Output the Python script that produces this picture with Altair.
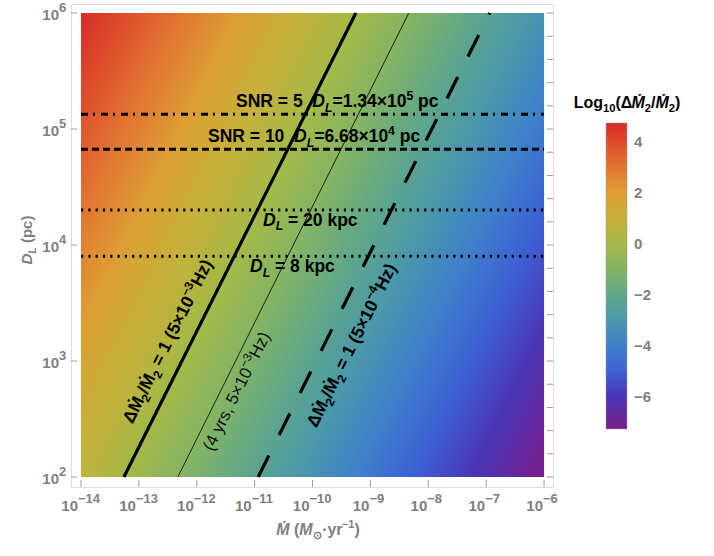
import altair as alt
import pandas as pd

# ---------------- values ----------------
mdot_ticks = [1e-14, 1e-13, 1e-12, 1e-11, 1e-10, 1e-9, 1e-8, 1e-7, 1e-6]
mdot_exps = ["−14", "−13", "−12", "−11", "−10", "−9", "−8", "−7", "−6"]
dl_ticks = [1e2, 1e3, 1e4, 1e5, 1e6]
dl_exps = ["2", "3", "4", "5", "6"]
dl_minor_exps = [2.0, 2.2, 2.4, 2.6, 2.8, 3.0, 3.2, 3.4, 3.6, 3.8, 4.0,
                 4.2, 4.4, 4.6, 4.8, 5.0, 5.2, 5.4, 5.6, 5.8, 6.0]

# extent of the colour field
field_mdot = [1e-14, 1e-6]
field_dl = [1e2, 1e6]

# colour bar: log10(dM2/M2) values and colours (top-left of field = max, bottom-right = min)
cbar_values = [-7.26, -6, -5, -4, -3, -2, -1, 0, 1, 2, 3, 4, 4.74]
cbar_colors = ["#7a1d8a", "#4b35b5", "#3d5fd4", "#3f80cb", "#4a98aa", "#60a788",
               "#84b464", "#a5b947", "#c6b13a", "#dd9f35", "#e27531", "#de4b2b", "#d62b28"]
cbar_label_values = [4, 2, 0, -2, -4, -6]

# horizontal distance lines (pc)
snr5_dl = 1.34e5
snr10_dl = 6.68e4
d20_dl = 2.0e4
d8_dl = 8.0e3

# diagonal lines: D_L end points and the matching Mdot end points
diag_dl = [1e2, 1e6]
solid_mdot = [5.5e-14, 5.6e-10]
thin_mdot = [4.7e-13, 4.6e-9]
dashed_mdot = [1.15e-11, 1.15e-7]

# ---------------- layout ----------------
W, H = 482, 483
X_DOM = [10 ** -14.173, 10 ** -5.845]
Y_DOM = [10 ** 1.914, 10 ** 6.078]
FONT = "Liberation Sans"
GREY = "#808080"

xscale = alt.Scale(type="log", domain=X_DOM, nice=False)
yscale = alt.Scale(type="log", domain=Y_DOM, nice=False)


def X(field):
    return alt.X(f"{field}:Q", scale=xscale, axis=None)


def Y(field):
    return alt.Y(f"{field}:Q", scale=yscale, axis=None)


# ---------------- rich text helper (sub/superscripts as separate pieces) ----------------
WB = {' ': 278, '(': 333, ')': 333, '.': 278, '/': 278, '=': 584, '×': 584, '−': 584, '·': 278,
      'D': 722, 'L': 611, 'S': 667, 'N': 722, 'R': 722, 'H': 722, 'M': 833, 'Ṁ': 833, 'Δ': 668,
      'z': 500, 'p': 611, 'c': 556, 'k': 556, 'y': 556, 'r': 389, 's': 556, ',': 278, 'o': 611,
      'g': 611, '⊙': 850}
WR = {' ': 278, '(': 333, ')': 333, ',': 278, '×': 584, '−': 584, 'H': 722, 'z': 500,
      'y': 500, 'r': 333, 's': 500}


def tw(s, size, bold):
    tab = WB if bold else WR
    return sum(tab.get(ch, 556) for ch in s) * size / 1000.0


def rich(segs, size, x=None, y=None, px=None, align="left", angle=0, weight="bold",
         color="black", center_v=False):
    """segs: (text, kind); kind is a set of flags among 'sub', 'sup', 'it' joined by '+'."""
    bold = weight == "bold"
    small = round(size * 0.7, 1)
    info = []
    for t, k in segs:
        flags = set(k.split("+"))
        s = small if ("sub" in flags or "sup" in flags) else size
        info.append((t, flags, s, tw(t, s, bold)))
    off = -sum(i[3] for i in info) / 2 if align == "center" else 0.0
    base_dy = 0.36 * size if center_v else 0.0
    out = []
    for t, flags, s, w in info:
        lead = len(t) - len(t.lstrip(" "))
        shown = t.strip(" ")
        dx = off + tw(" " * lead, s, bold)
        off += w
        if not shown:
            continue
        dy = base_dy + (0.26 * size if "sub" in flags else (-0.42 * size if "sup" in flags else 0.0))
        mk = alt.Chart(pd.DataFrame({"t": [shown], "x": [x], "y": [y]})).mark_text(
            font=FONT, fontSize=s, fontWeight=weight, fontStyle="italic" if "it" in flags else "normal",
            color=color, align="left", baseline="alphabetic", angle=angle, dx=dx, dy=dy)
        if px is None:
            out.append(mk.encode(text="t:N", x=X("x"), y=Y("y")))
        else:
            out.append(mk.encode(text="t:N", x=alt.value(px[0]), y=alt.value(px[1])))
    return out


# ---------------- field (heat map) ----------------
field_df = pd.DataFrame({"x": [field_mdot[0]], "x2": [field_mdot[1]],
                         "y": [field_dl[0]], "y2": [field_dl[1]], "v": [0.0]})

vmin, vmax = min(cbar_values), max(cbar_values)
stops = sorted(
    [alt.GradientStop(offset=(vmax - v) / (vmax - vmin), color=c) for v, c in zip(cbar_values, cbar_colors)],
    key=lambda s: s.offset)

legend_layer = alt.Chart(field_df).mark_rect().encode(
    x=X("x"), x2="x2", y=Y("y"), y2="y2",
    color=alt.Color("v:Q",
                    scale=alt.Scale(domain=cbar_values, range=cbar_colors, interpolate="rgb"),
                    legend=alt.Legend(title=None, orient="none", legendX=535, legendY=119,
                                      direction="vertical", gradientLength=306, gradientThickness=21,
                                      values=cbar_label_values, padding=0,
                                      labelFont=FONT, labelFontSize=15, labelFontWeight="bold",
                                      labelColor=GREY, labelOffset=7, labelOverlap=False,
                                      gradientStrokeColor="#999999", gradientStrokeWidth=0.5)),
)

# gradient fill: the field is linear in log space, iso-lines of slope 1 (log-log)
heat_layer = alt.Chart(field_df).mark_rect(
    fill=alt.LinearGradient(gradient="linear", stops=stops, x1=0, y1=0, x2=1.2, y2=0.6)
).encode(x=X("x"), x2="x2", y=Y("y"), y2="y2")


# ---------------- horizontal lines ----------------
def hline(dl, dash, width=3):
    df = pd.DataFrame({"x": [field_mdot[0]], "x2": [field_mdot[1]], "y": [dl]})
    return alt.Chart(df).mark_rule(color="black", strokeWidth=width, strokeDash=dash).encode(
        x=X("x"), x2="x2", y=Y("y"))


h_snr5 = hline(snr5_dl, [7, 5, 2, 6])
h_snr10 = hline(snr10_dl, [7, 4])
h_d20 = hline(d20_dl, [2.2, 5.1])
h_d8 = hline(d8_dl, [2.2, 5.1])


# ---------------- diagonal lines ----------------
def dline(mdots, **kw):
    df = pd.DataFrame({"x": mdots, "y": diag_dl})
    return alt.Chart(df).mark_line(color="black", **kw).encode(x=X("x"), y=Y("y"), order="y:Q")


d_solid = dline(solid_mdot, strokeWidth=3.2)
d_thin = dline(thin_mdot, strokeWidth=1, opacity=0.8)
d_dash = dline(dashed_mdot, strokeWidth=3.2, strokeDash=[24, 23])

# ---------------- frame ticks ----------------
tick_color = "#9a9a9a"
bt = alt.Chart(pd.DataFrame({"x": mdot_ticks})).mark_rule(color=tick_color, strokeWidth=1).encode(
    x=X("x"), y=alt.value(H), y2=alt.value(H - 7))
lt = alt.Chart(pd.DataFrame({"y": dl_ticks})).mark_rule(color=tick_color, strokeWidth=1).encode(
    y=Y("y"), x=alt.value(0), x2=alt.value(6))
rt = alt.Chart(pd.DataFrame({"y": [10 ** e for e in dl_minor_exps]})).mark_rule(
    color=tick_color, strokeWidth=1).encode(y=Y("y"), x=alt.value(W), x2=alt.value(W - 6))

# ---------------- tick labels: "10" with a raised exponent ----------------
lab = dict(font=FONT, fontWeight="bold", color=GREY, baseline="alphabetic")
xl_df = pd.DataFrame({"x": mdot_ticks, "e": mdot_exps, "b": ["10"] * len(mdot_ticks)})
xl_df["n"] = xl_df["e"].str.len()
x_layers = []
for n, shift in [(3, -3), (2, -1)]:
    sub = xl_df[xl_df["n"] == n]
    x_layers.append(alt.Chart(sub).mark_text(fontSize=15, align="right", dx=shift, **lab).encode(
        x=X("x"), y=alt.value(H + 24), text="b:N"))
    x_layers.append(alt.Chart(sub).mark_text(fontSize=13, align="left", dx=shift, **lab).encode(
        x=X("x"), y=alt.value(H + 16), text="e:N"))

yl_df = pd.DataFrame({"y": dl_ticks, "e": dl_exps, "b": ["10"] * len(dl_ticks)})
y_base = alt.Chart(yl_df).mark_text(fontSize=15, align="right", dy=7, **lab).encode(
    y=Y("y"), x=alt.value(-12), text="b:N")
y_exp = alt.Chart(yl_df).mark_text(fontSize=13, align="left", dy=-1, **lab).encode(
    y=Y("y"), x=alt.value(-12), text="e:N")

# ---------------- axis titles and colour-bar title ----------------
x_title = rich([("Ṁ", "it"), (" (", "n"), ("M", "it"), ("⊙", "sub"), ("·yr", "n"), ("−1", "sup"), (")", "n")],
               16, px=(247, 531), align="center", color=GREY)
y_title = rich([("D", "it"), ("L", "sub+it"), (" (pc)", "n")],
               15, px=(-44, 236), align="center", angle=270, color=GREY, center_v=True)
cb_title = rich([("Log", "n"), ("10", "sub"), ("(Δ", "n"), ("Ṁ", "it"), ("2", "sub"), ("/", "n"),
                 ("Ṁ", "it"), ("2", "sub"), (")", "n")],
                16, px=(556, 104), align="center")

# ---------------- annotations ----------------
ann = []
ann += rich([("SNR = 5  ", "n"), ("D", "it"), ("L", "sub+it"), ("=1.34×10", "n"), ("5", "sup"), (" pc", "n")],
            17.5, x=10 ** -11.322, y=10 ** 5.19)
ann += rich([("SNR = 10  ", "n"), ("D", "it"), ("L", "sub+it"), ("=6.68×10", "n"), ("4", "sup"), (" pc", "n")],
            17.5, x=10 ** -11.806, y=10 ** 4.888)
ann += rich([("D", "it"), ("L", "sub+it"), (" = 20 kpc", "n")], 17.5, x=10 ** -10.855, y=10 ** 4.166)
ann += rich([("D", "it"), ("L", "sub+it"), (" = 8 kpc", "n")], 17.5, x=10 ** -11.08, y=10 ** 3.767)

ANG = 296.5
ann += rich([("ΔṀ", "n"), ("2", "sub"), ("/Ṁ", "n"), ("2", "sub"), (" = 1 (5×10", "n"), ("−3", "sup"),
             ("Hz)", "n")], 17.5, x=10 ** -12.514, y=10 ** 3.172, align="center", angle=ANG, center_v=True)
ann += rich([("ΔṀ", "n"), ("2", "sub"), ("/Ṁ", "n"), ("2", "sub"), (" = 1 (5×10", "n"), ("−4", "sup"),
             ("Hz)", "n")], 17.5, x=10 ** -9.335, y=10 ** 3.138, align="center", angle=ANG, center_v=True)
ann += rich([("(4 yrs, 5×10", "n"), ("−3", "sup"), ("Hz)", "n")], 17, x=10 ** -11.322, y=10 ** 2.741,
            align="center", angle=ANG, weight="normal", color="#111111", center_v=True)

chart = alt.layer(
    legend_layer, heat_layer,
    h_snr5, h_snr10, h_d20, h_d8,
    d_solid, d_thin, d_dash,
    bt, lt, rt,
    *x_layers, y_base, y_exp,
    *x_title, *y_title, *cb_title,
    *ann,
).properties(
    width=W, height=H,
    autosize=alt.AutoSizeParams(type="none"),
    padding={"left": 71, "top": 4, "right": 714 - 71 - W, "bottom": 556 - 4 - H},
).configure_view(
    stroke="#a8a8a8", strokeWidth=1
).configure(background="white")

chart.save("out.html", embed_options={"renderer": "svg", "actions": False})
